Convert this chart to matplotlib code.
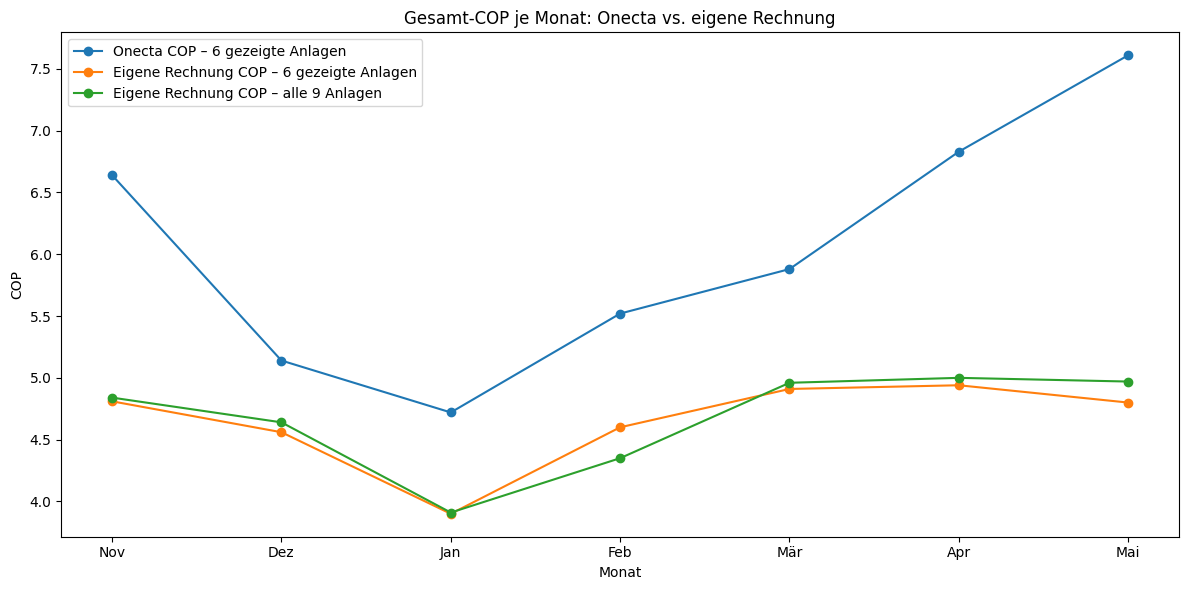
import matplotlib.pyplot as plt

# input data
months = ["Nov", "Dez", "Jan", "Feb", "Mär", "Apr", "Mai"]
onecta_cop = [6.64, 5.14, 4.72, 5.52, 5.88, 6.83, 7.61]
eigene_cop_6 = [4.81, 4.56, 3.90, 4.60, 4.91, 4.94, 4.80]
eigene_cop_9 = [4.84, 4.64, 3.91, 4.35, 4.96, 5.00, 4.97]

plt.figure(figsize=(11.89, 5.9), dpi=100)
plt.plot(months, onecta_cop, marker='o', label="Onecta COP – 6 gezeigte Anlagen")
plt.plot(months, eigene_cop_6, marker='o', label="Eigene Rechnung COP – 6 gezeigte Anlagen")
plt.plot(months, eigene_cop_9, marker='o', label="Eigene Rechnung COP – alle 9 Anlagen")

plt.title("Gesamt-COP je Monat: Onecta vs. eigene Rechnung")
plt.xlabel("Monat")
plt.ylabel("COP")
plt.legend(loc="upper left")
# tighter padding, like a bbox_inches='tight' save
plt.tight_layout(pad=0.72)
plt.savefig("out.png")
